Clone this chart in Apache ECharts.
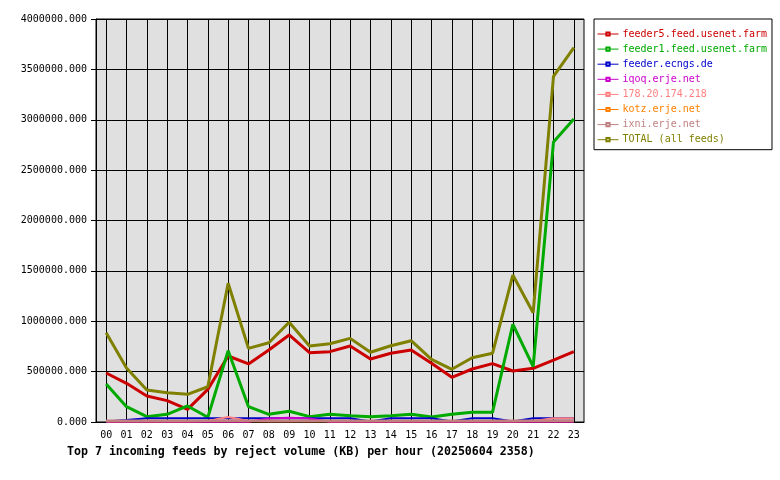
<!DOCTYPE html>
<html>
<head>
<meta charset="utf-8">
<script src="https://cdn.jsdelivr.net/npm/echarts@6/dist/echarts.min.js"></script>
<style>
html,body{margin:0;padding:0;background:#fff;}
#c{width:780px;height:480px;}
</style>
</head>
<body>
<div id="c"></div>
<script>
var hours = ['00','01','02','03','04','05','06','07','08','09','10','11','12','13','14','15','16','17','18','19','20','21','22','23'];
var seriesNames = ['feeder5.feed.usenet.farm','feeder1.feed.usenet.farm','feeder.ecngs.de','iqoq.erje.net','178.20.174.218','kotz.erje.net','ixni.erje.net','TOTAL (all feeds)'];
var seriesColors = ['#cc0000','#00aa00','#0000cc','#cc00cc','#ff8080','#ff8000','#c08080','#808000'];
var feeder5 = [486000,384000,258000,212000,126000,324000,655000,576000,715000,864000,688000,698000,754000,625000,682000,715000,583000,444000,526000,579000,506000,533000,615000,698000];
var feeder1 = [377000,152000,53000,76000,159000,47000,708000,152000,76000,106000,53000,76000,63000,53000,63000,76000,50000,76000,96000,96000,970000,549000,2780000,3008000];
var ecngs = [5000,20000,38000,38000,38000,38000,38000,38000,38000,38000,38000,38000,38000,5000,38000,38000,38000,5000,38000,38000,5000,38000,38000,38000];
var iqoq = [3000,3000,3000,3000,3000,3000,3000,3000,35000,42000,35000,3000,3000,3000,3000,3000,3000,3000,3000,3000,3000,3000,3000,3000];
var ip178 = [8000,8000,8000,8000,8000,10000,50000,10000,8000,8000,8000,8000,8000,8000,8000,8000,8000,8000,8000,8000,8000,10000,38000,38000];
var kotz = [4000,4000,4000,4000,4000,4000,4000,4000,4000,4000,4000,4000,4000,4000,4000,4000,4000,4000,4000,4000,4000,4000,4000,4000];
var ixni = [13000,13000,13000,13000,13000,13000,13000,13000,13000,13000,13000,13000,13000,13000,13000,13000,13000,13000,13000,13000,13000,13000,13000,13000];
var total = [885000,536000,318000,291000,275000,350000,1377000,731000,787000,990000,754000,776000,830000,692000,757000,807000,622000,523000,638000,682000,1459000,1085000,3430000,3715000];
var yTicks = {min: 0, max: 4000000, interval: 500000};
var titleText = 'Top 7 incoming feeds by reject volume (KB) per hour (20250604 2358)';

var allData = [feeder5, feeder1, ecngs, iqoq, ip178, kotz, ixni, total];
var widths = [3, 3, 2, 2, 2, 1.5, 2.5, 3];
var mono = 'DejaVu Sans Mono';

var series = allData.map(function (d, i) {
  return {
    name: seriesNames[i],
    type: 'line',
    data: d,
    symbol: 'emptyRect',
    symbolSize: 4,
    showSymbol: false,
    lineStyle: {color: seriesColors[i], width: widths[i]},
    itemStyle: {color: seriesColors[i], borderColor: seriesColors[i], borderWidth: 1},
    emphasis: {disabled: true},
    z: 2 + i
  };
});

var chart = echarts.init(document.getElementById('c'));
chart.setOption({
  animation: false,
  title: {
    text: titleText,
    left: 67,
    top: 446,
    padding: 0,
    textStyle: {fontFamily: mono, fontSize: 11.6, fontWeight: 'bold', color: '#000'}
  },
  legend: {
    orient: 'vertical',
    left: 594,
    top: 19,
    padding: [9, 5, 4, 3],
    itemWidth: 21,
    itemHeight: 4,
    itemGap: 3.1,
    backgroundColor: '#fff',
    borderColor: '#000',
    borderWidth: 1,
    borderRadius: 0,
    selectedMode: false,
    lineStyle: {width: 1},
    itemStyle: {borderWidth: 1},
    textStyle: {fontFamily: mono, fontSize: 10, lineHeight: 12, padding: [0, 0, 0, -1]},
    data: seriesNames.map(function (n, i) {
      return {name: n, textStyle: {color: seriesColors[i]}};
    })
  },
  grid: {
    left: 96,
    right: 196,
    top: 19,
    bottom: 58,
    show: true,
    backgroundColor: '#e0e0e0',
    borderColor: '#000',
    borderWidth: 1
  },
  xAxis: {
    type: 'category',
    data: hours,
    boundaryGap: true,
    axisLine: {lineStyle: {color: '#000', width: 1}},
    axisTick: {alignWithLabel: true, length: 4, lineStyle: {color: '#000'}},
    axisLabel: {fontFamily: mono, fontSize: 10, color: '#000', margin: 8, interval: 0},
    splitLine: {show: true, alignWithLabel: true, interval: 0, lineStyle: {color: '#000', width: 1}}
  },
  yAxis: {
    type: 'value',
    min: yTicks.min,
    max: yTicks.max,
    interval: yTicks.interval,
    axisLine: {show: true, lineStyle: {color: '#000', width: 1}},
    axisTick: {show: true, length: 5, lineStyle: {color: '#000'}},
    axisLabel: {
      fontFamily: mono, fontSize: 10, color: '#000', margin: 9,
      formatter: function (v) { return v.toFixed(3); }
    },
    splitLine: {show: true, lineStyle: {color: '#000', width: 1}}
  },
  series: series
});
</script>
</body>
</html>
